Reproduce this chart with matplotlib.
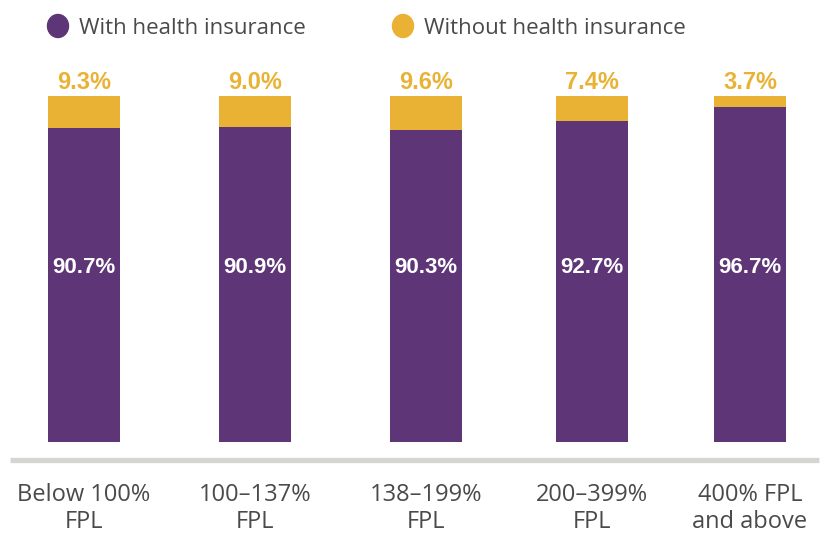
import matplotlib.pyplot as plt
from matplotlib.patches import Ellipse

categories = ["Below 100%\nFPL", "100\u2013137%\nFPL", "138\u2013199%\nFPL",
              "200\u2013399%\nFPL", "400% FPL\nand above"]
with_ins = [90.7, 90.9, 90.3, 92.7, 96.7]
without_ins = [9.3, 9.0, 9.6, 7.4, 3.7]
series_names = ["With health insurance", "Without health insurance"]

PURPLE = "#5e3677"
YELLOW = "#eab235"
GREY_TEXT = "#4a4a4a"
LABEL_FONT = ["Open Sans", "DejaVu Sans"]
NUM_FONT = ["Liberation Sans", "DejaVu Sans"]

# layout (pixel-ish units across the 833px canvas)
xpos = [84, 255, 426, 592, 750]
BAR_W = 72

fig = plt.figure(figsize=(8.33, 5.36), dpi=100)
ax = fig.add_axes([0, (536 - 442) / 536, 1, (442 - 96) / 536])
ax.set_xlim(0, 833)
ax.set_ylim(0, 100)
ax.axis("off")

ax.bar(xpos, with_ins, width=BAR_W, color=PURPLE)
# stack to a full 100% column, as in the source graphic
tops = [100 - w for w in with_ins]
ax.bar(xpos, tops, bottom=with_ins, width=BAR_W, color=YELLOW)

for x, w, wo in zip(xpos, with_ins, without_ins):
    ax.text(x, 50.5, f"{w:.1f}%", ha="center", va="center", color="white",
            fontsize=16, fontweight="bold", family=NUM_FONT)
    ax.text(x, 101.9, f"{wo:.1f}%", ha="center", va="baseline", color=YELLOW,
            fontsize=17, fontweight="bold", family=NUM_FONT)

# baseline rule
ax.plot([10, 819], [-5.2, -5.2], color="#d6d6d0", lw=3.8, clip_on=False,
        solid_capstyle="butt")

for x, lab in zip(xpos, categories):
    ax.text(x, -11.8, lab, ha="center", va="top", color=GREY_TEXT,
            fontsize=17, family=LABEL_FONT, linespacing=1.2)

# legend
W, H = 833, 536
for cx, tx, col, name in [(58, 79, PURPLE, series_names[0]),
                          (403, 424, YELLOW, series_names[1])]:
    fig.patches.append(Ellipse((cx / W, 1 - 26 / H), 21 / W, 23 / H,
                               transform=fig.transFigure, color=col))
    fig.text(tx / W, 1 - 29 / H, name, ha="left", va="center",
             color=GREY_TEXT, fontsize=16, family=LABEL_FONT)

fig.savefig("out.png", dpi=100)
